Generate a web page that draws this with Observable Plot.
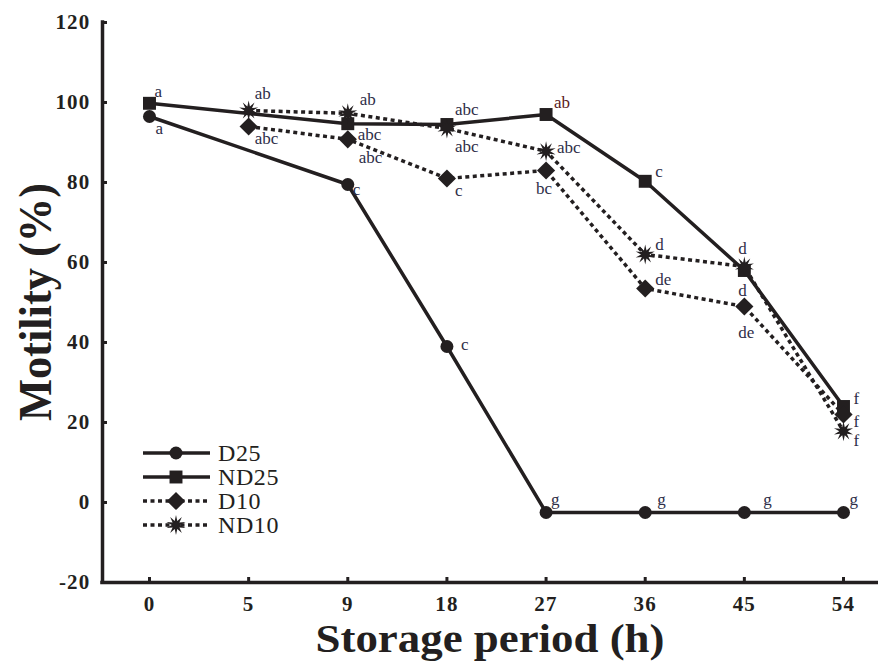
<!DOCTYPE html>
<html><head><meta charset="utf-8">
<script src="https://cdn.jsdelivr.net/npm/d3@7"></script>
<script src="https://cdn.jsdelivr.net/npm/@observablehq/plot@0.6"></script>
<style>
body{margin:0;background:#fff;}
#chart{width:878px;height:663px;}
g[aria-label="x-axis tick label"] text, g[aria-label="y-axis tick label"] text{letter-spacing:1.2px;}
</style></head><body><div id="chart"></div>
<script>
// ---- data ----
const periods = ["0", "5", "9", "18", "27", "36", "45", "54"];
const yTicks = [-20, 0, 20, 40, 60, 80, 100, 120];
const seriesNames = ["D25", "ND25", "D10", "ND10"];
const D25  = [96.5, null, 79.5, 39, -2.5, -2.5, -2.5, -2.5];
const ND25 = [99.8, null, 94.7, 94.5, 97, 80.3, 58, 24];
const D10  = [null, 94, 90.8, 81, 83, 53.5, 49, 22];
const ND10 = [null, 98, 97.3, 93.5, 87.8, 62, 59, 17.8];
const D25_letters  = ["a", null, "c", "c", "g", "g", "g", "g"];
const ND25_letters = ["a", null, "abc", "abc", "ab", "c", "d", "f"];
const D10_letters  = [null, "abc", "abc", "c", "bc", "de", "de", "f"];
const ND10_letters = [null, "ab", "ab", "abc", "abc", "d", "d", "f"];
const xTitle = "Storage period (h)";
const yTitle = "Motility (%)";

// ---- layout / style ----
const ink = "#231f20";
const letterInk = "#2e2e48";
const serif = "'Liberation Serif','Times New Roman',serif";
// label offsets (px) relative to each point: [dx, dy]
const labelOffsets = {
  D25:  [[6,12],null,[5,5],[14,-2],[5,-13],[12,-13],[19,-13],[6,-13]],
  ND25: [[5,-12],null,[10,11],[8,-15],[8,-12],[10,-10],[-6,-22],[10,-8]],
  D10:  [null,[6,12],[11,18],[8,12],[-10,18],[10,-9],[-6,26],[10,7]],
  ND10: [null,[6,-17],[12,-14],[8,18],[11,-4],[10,-10],[-6,24],[10,9]]
};
const burst = {
  draw(ctx, size) {
    const R = Math.sqrt(size / Math.PI), r = R * 0.42, n = 10;
    for (let i = 0; i < 2 * n; i++) {
      const a = i * Math.PI / n - Math.PI / 2, rr = i % 2 ? r : R;
      const x = rr * Math.cos(a), y = rr * Math.sin(a);
      i ? ctx.lineTo(x, y) : ctx.moveTo(x, y);
    }
    ctx.closePath();
  }
};
const styles = {
  D25:  {symbol: "circle",   r: 6.5, dash: null},
  ND25: {symbol: "square",   r: 7.3, dash: null},
  D10:  {symbol: "diamond2", r: 8.2, dash: "4,3.5"},
  ND10: {symbol: burst,      r: 10,  dash: "4,3.5"}
};
const values = {D25, ND25, D10, ND10};
const letters = {D25: D25_letters, ND25: ND25_letters, D10: D10_letters, ND10: ND10_letters};

const rows = {};
for (const s of seriesNames) {
  rows[s] = [];
  values[s].forEach((v, i) => {
    if (v != null) rows[s].push({i, v, label: letters[s][i], off: labelOffsets[s][i]});
  });
}

const xDomain = [-0.474, 7.353];

const marks = [];
for (const s of seriesNames) {
  marks.push(Plot.line(rows[s], {x: "i", y: "v", stroke: ink, strokeWidth: 3.5,
    strokeDasharray: styles[s].dash, strokeLinejoin: "miter", strokeLinecap: "butt"}));
}
for (const s of seriesNames) {
  marks.push(Plot.dot(rows[s], {x: "i", y: "v", r: styles[s].r, symbol: styles[s].symbol, fill: ink, stroke: "none"}));
}
for (const s of seriesNames) {
  for (const d of rows[s]) {
    if (!d.label) continue;
    marks.push(Plot.text([d], {x: "i", y: "v", text: "label", dx: d.off[0], dy: d.off[1],
      textAnchor: "start", fontSize: 17, fontFamily: serif,
      fill: (s === "ND25" && d.i === 4) ? "#5a1a1a" : letterInk}));
  }
}
// axes
marks.push(Plot.ruleX([xDomain[0]], {stroke: ink, strokeWidth: 3.5, strokeLinecap: "square"}));
marks.push(Plot.ruleY([yTicks[0]], {stroke: ink, strokeWidth: 3.5, strokeLinecap: "square"}));
marks.push(Plot.axisY({ticks: yTicks, tickSize: -5, tickPadding: 17, strokeWidth: 3, tickFormat: d => d,
  fontSize: 21, fontWeight: "bold", fontFamily: serif, fill: ink, stroke: ink, label: null}));
marks.push(Plot.axisX({ticks: periods.map((_, i) => i), tickSize: -5, tickPadding: 19, strokeWidth: 3,
  tickFormat: i => periods[i], fontSize: 21, fontWeight: "bold", fontFamily: serif, fill: ink, stroke: ink, label: null}));
// titles and legend (pixel layout inside the SVG)
marks.push((index, scales, vals, dims) => {
  const g = d3.create("svg:g");
  const fx0 = dims.marginLeft, fx1 = dims.width - dims.marginRight;
  const fy0 = dims.marginTop, fy1 = dims.height - dims.marginBottom;
  g.append("text").text(xTitle)
    .attr("x", (fx0 + fx1) / 2 - 349 / 2).attr("y", fy1 + 70)
    .attr("textLength", 349).attr("lengthAdjust", "spacingAndGlyphs")
    .attr("font-family", serif).attr("font-size", 41).attr("font-weight", "bold")
    .attr("fill", ink).attr("text-anchor", "start");
  g.append("text").text(yTitle)
    .attr("transform", `translate(${fx0 - 51},${(fy0 + fy1) / 2 + 119}) rotate(-90)`)
    .attr("textLength", 238).attr("lengthAdjust", "spacingAndGlyphs")
    .attr("font-family", serif).attr("font-size", 46).attr("font-weight", "bold")
    .attr("fill", ink).attr("text-anchor", "start");
  const x0 = fx0 + 41, x1 = fx0 + 108, xm = fx0 + 74, xt = fx0 + 116;
  const rowsY = [453, 477, 501, 525];
  seriesNames.forEach((s, k) => {
    const y = rowsY[k];
    g.append("line").attr("x1", x0).attr("x2", x1).attr("y1", y).attr("y2", y)
      .attr("stroke", ink).attr("stroke-width", 3.5).attr("stroke-dasharray", styles[s].dash);
    const sym = typeof styles[s].symbol === "string"
      ? {circle: d3.symbolCircle, square: d3.symbolSquare, diamond2: d3.symbolDiamond2}[styles[s].symbol]
      : styles[s].symbol;
    g.append("path").attr("transform", `translate(${xm},${y})`)
      .attr("d", d3.symbol(sym, styles[s].r * styles[s].r * Math.PI)()).attr("fill", ink);
    g.append("text").attr("x", xt).attr("y", y).attr("dy", "0.35em").text(s)
      .attr("text-anchor", "start").attr("letter-spacing", "0.6px")
      .attr("font-family", serif).attr("font-size", 24).attr("fill", ink);
  });
  return g.node();
});

const chart = Plot.plot({
  width: 878, height: 663,
  marginLeft: 102, marginRight: 0, marginTop: 22, marginBottom: 81,
  style: {background: "#fff", fontFamily: serif},
  x: {type: "linear", domain: xDomain, axis: null},
  y: {domain: [-20, 120], axis: null},
  marks
});
document.getElementById("chart").appendChild(chart);
</script></body></html>
